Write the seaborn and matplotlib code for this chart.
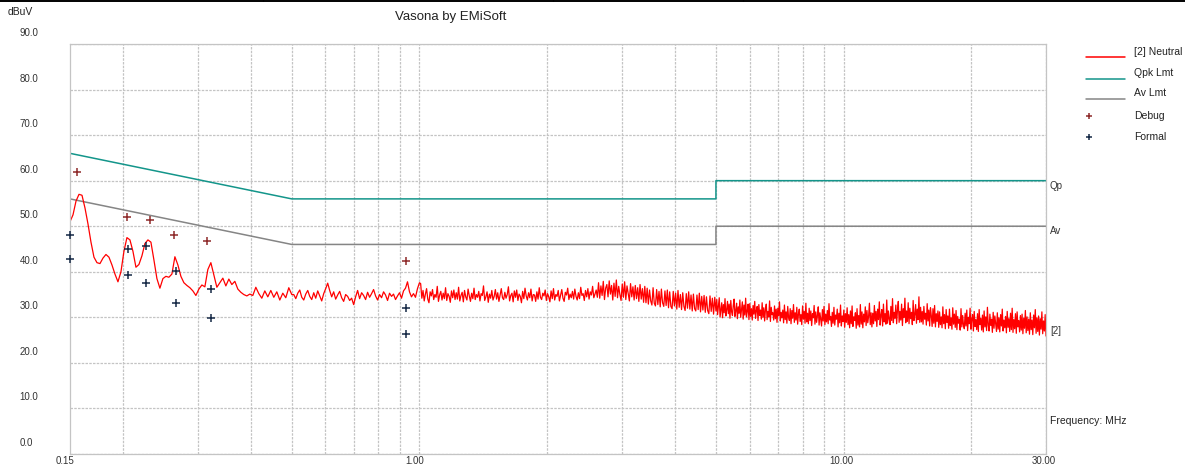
import numpy as np
import pandas as pd
import seaborn as sns
import matplotlib.pyplot as plt
import matplotlib.transforms as mtransforms
from matplotlib.lines import Line2D

# sweep grid in MHz (segments get denser towards the high end, like the analyser sweep)
freq_lo = np.geomspace(0.15, 0.5, 75)
freq_mid_a = np.geomspace(0.5, 1, 65)[1:]
freq_mid_b = np.geomspace(1, 5, 251)[1:]
freq_hi = np.geomspace(5, 30, 401)[1:]

# [2] Neutral trace, dBuV
neutral_lo = [51.0, 52.5, 55.5, 57.0, 56.8, 54.0, 50.5, 46.5, 43.2, 42.0,
              41.8, 43.0, 43.8, 43.2, 41.5, 39.5, 37.8, 40.0, 44.5, 47.5,
              47.0, 44.5, 41.0, 41.6, 43.5, 46.2, 47.0, 46.5, 42.6, 38.5,
              36.4, 38.5, 39.0, 38.8, 39.5, 43.3, 41.5, 39.0, 37.6, 37.0,
              36.5, 35.8, 34.8, 36.2, 37.1, 36.7, 40.5, 42.0, 39.3, 36.6,
              37.6, 38.6, 36.9, 38.4, 37.2, 37.9, 36.2, 35.5, 35.0, 34.7,
              35.1, 34.8, 36.6, 35.2, 34.2, 35.8, 34.5, 35.9, 34.4, 35.6,
              33.8, 35.3, 34.3, 36.5, 35.0]
neutral_mid_a = [35.0, 34.1, 35.3, 36.0, 34.4, 33.8, 35.1, 35.9, 34.6, 33.9,
                 35.4, 34.2, 35.8, 34.7, 33.6, 35.2, 36.3, 37.5, 35.9, 34.5,
                 35.6, 34.0, 34.9, 35.7, 34.3, 33.5, 35.0, 34.6, 33.7, 34.2,
                 32.8, 34.5, 35.9, 34.1, 35.4, 34.8, 33.9, 35.5, 34.4, 35.2,
                 36.1, 34.7, 33.8, 35.0, 34.3, 35.6, 34.9, 33.7, 35.3, 34.6,
                 35.1, 33.9, 34.7, 35.4, 34.2, 35.8, 36.4, 37.8, 35.6, 34.5,
                 35.2, 34.4, 36.3, 37.6]
neutral_mid_b = [37.4, 34.2, 35.9, 33.6, 35.1, 36.3, 34.0, 33.2, 35.6, 34.7,
                 36.1, 33.9, 35.0, 34.4, 36.8, 33.5, 34.9, 35.7, 33.8, 35.3,
                 34.1, 36.5, 33.7, 35.2, 34.6, 33.3, 35.8, 34.3, 36.0, 33.9,
                 35.4, 34.0, 36.6, 33.6, 34.8, 35.5, 33.4, 35.9, 34.5, 33.8,
                 36.2, 34.7, 33.5, 35.3, 34.1, 36.4, 33.9, 35.0, 34.4, 35.7,
                 33.6, 35.2, 34.8, 36.9, 33.7, 34.5, 35.6, 33.3, 35.1, 34.2,
                 35.9, 33.8, 34.6, 36.1, 34.0, 35.4, 33.5, 34.9, 36.3, 34.3,
                 33.9, 35.5, 34.2, 35.0, 36.7, 33.6, 34.8, 35.3, 33.4, 35.8,
                 34.4, 36.0, 33.7, 35.1, 34.6, 33.2, 35.7, 34.1, 36.4, 34.7,
                 33.8, 35.4, 34.3, 36.2, 33.6, 35.0, 34.9, 33.5, 35.6, 34.0,
                 36.5, 34.4, 33.9, 35.3, 34.7, 36.0, 33.7, 35.2, 34.5, 33.4,
                 35.8, 34.1, 36.3, 33.8, 35.0, 34.6, 35.9, 33.6, 34.8, 36.1,
                 34.2, 33.5, 35.5, 34.9, 36.4, 33.9, 35.1, 34.3, 35.7, 34.0,
                 36.2, 34.6, 33.8, 35.4, 34.1, 36.6, 34.8, 35.2, 33.7, 35.9,
                 34.5, 36.3, 34.0, 35.6, 34.9, 36.8, 34.3, 35.1, 36.0, 34.4,
                 37.6, 34.2, 36.9, 34.8, 37.9, 33.9, 36.4, 37.2, 34.5, 38.0,
                 35.1, 37.0, 33.8, 37.5, 34.6, 38.2, 34.3, 36.8, 35.0, 33.7,
                 37.3, 34.4, 37.8, 33.9, 36.9, 35.2, 33.6, 37.4, 34.5, 36.7,
                 33.8, 37.0, 34.1, 36.5, 33.5, 37.2, 34.0, 36.3, 33.3, 36.8,
                 33.2, 36.4, 32.9, 36.0, 33.6, 32.7, 36.5, 33.1, 32.5, 36.1,
                 32.8, 35.7, 32.3, 36.2, 33.2, 32.4, 35.8, 32.6, 36.0, 32.1,
                 35.6, 32.4, 31.9, 35.7, 32.5, 35.3, 31.8, 35.9, 32.2, 35.0,
                 31.7, 35.4, 32.4, 31.5, 35.2, 32.0, 35.6, 31.8, 34.9, 31.4,
                 35.1, 31.9, 31.4, 34.9, 31.7, 35.3, 31.2, 34.6, 31.6, 34.8,
                 31.1, 34.5, 31.5, 30.8, 34.7, 31.3, 34.2, 30.7, 34.4, 31.4]
neutral_hi = [33.9, 30.6, 32.4, 34.3, 30.1, 31.7, 33.2, 29.9, 32.8, 31.0,
              34.1, 30.3, 31.6, 33.5, 30.8, 32.9, 29.8, 33.7, 31.2, 30.4,
              32.6, 34.0, 30.2, 31.4, 33.1, 29.7, 32.3, 30.9, 33.8, 30.0,
              31.8, 33.4, 29.6, 32.7, 30.5, 34.2, 30.1, 31.3, 32.9, 29.5,
              33.0, 30.2, 31.9, 29.4, 32.6, 30.7, 33.5, 29.8, 31.5, 32.4,
              29.3, 32.8, 30.4, 31.6, 29.6, 33.2, 30.0, 32.1, 29.2, 31.7,
              32.9, 29.5, 31.3, 30.1, 33.6, 29.1, 32.2, 30.6, 31.0, 29.4,
              32.5, 29.7, 31.8, 28.9, 32.0, 30.3, 33.4, 29.2, 31.1, 29.9,
              31.6, 28.8, 32.7, 29.5, 31.2, 28.7, 32.4, 30.0, 29.3, 31.9,
              28.6, 31.5, 29.8, 32.8, 28.9, 31.0, 29.4, 32.2, 28.5, 30.7,
              31.8, 29.1, 30.6, 28.4, 32.5, 29.6, 31.3, 28.7, 33.1, 29.0,
              30.9, 28.6, 32.0, 29.3, 31.4, 28.2, 30.8, 29.9, 32.6, 28.5,
              31.2, 28.9, 30.4, 32.3, 28.3, 31.0, 29.5, 28.1, 31.7, 29.2,
              32.4, 28.4, 30.7, 29.0, 31.5, 28.6, 33.0, 29.4, 30.2, 28.0,
              31.1, 28.7, 32.2, 28.3, 30.5, 29.6, 31.8, 27.9, 30.9, 28.8,
              32.7, 28.1, 30.3, 29.1, 31.6, 27.8, 30.8, 28.9, 32.1, 28.4,
              30.6, 27.7, 31.4, 28.6, 32.5, 28.0, 30.1, 29.3, 31.0, 27.6,
              31.9, 28.3, 30.4, 27.9, 32.8, 28.5, 31.2, 27.7, 30.7, 29.0,
              32.3, 28.2, 31.5, 28.8, 30.2, 33.1, 28.4, 31.0, 27.9, 30.9,
              28.6, 32.6, 29.2, 31.3, 28.0, 31.8, 29.5, 33.4, 28.3, 30.5,
              31.7, 28.1, 32.9, 29.0, 30.8, 28.5, 33.8, 28.7, 31.4, 29.6,
              28.4, 32.4, 29.3, 34.1, 28.8, 31.1, 29.8, 32.7, 28.6, 31.6,
              33.5, 28.9, 31.3, 29.4, 32.9, 28.2, 31.9, 30.0, 34.2, 28.8,
              31.4, 29.1, 33.2, 28.6, 32.0, 29.7, 31.1, 28.4, 33.7, 29.3,
              30.6, 32.8, 28.7, 31.8, 29.5, 34.5, 28.9, 32.2, 29.0, 31.3,
              28.5, 32.4, 29.6, 30.9, 28.3, 33.0, 29.2, 31.6, 28.1, 32.1,
              30.4, 28.0, 31.9, 28.7, 32.6, 27.9, 30.8, 29.1, 31.4, 27.8,
              31.2, 28.4, 30.1, 27.7, 32.3, 28.6, 30.6, 27.5, 31.7, 28.9,
              30.3, 27.6, 31.8, 28.2, 29.9, 27.4, 32.1, 28.5, 30.7, 27.8,
              31.5, 27.3, 30.2, 28.7, 29.6, 27.2, 31.9, 27.9, 30.4, 28.3,
              27.5, 30.9, 28.1, 31.6, 27.1, 30.0, 28.6, 32.0, 27.4, 29.7,
              30.6, 27.0, 31.3, 28.0, 29.5, 27.3, 30.8, 26.9, 31.7, 28.4,
              29.8, 27.2, 30.5, 26.8, 31.4, 27.9, 30.1, 27.1, 32.2, 28.3,
              27.0, 30.7, 28.2, 29.6, 26.7, 31.1, 27.6, 30.3, 28.5, 26.9,
              31.0, 27.4, 29.9, 26.8, 30.6, 28.1, 31.8, 27.0, 29.4, 27.7,
              30.2, 26.6, 31.3, 27.8, 29.7, 26.9, 30.9, 27.3, 32.0, 26.7,
              29.5, 27.5, 30.8, 26.5, 31.2, 27.9, 29.3, 26.8, 30.4, 27.2,
              30.7, 26.4, 29.8, 27.6, 31.5, 26.6, 30.1, 27.1, 29.6, 26.3,
              31.0, 27.3, 29.4, 26.2, 30.5, 27.7, 31.7, 26.5, 29.9, 26.9,
              30.3, 26.1, 29.7, 27.4, 31.2, 26.4, 29.2, 27.0, 30.6, 25.9]

# limit lines
qpk_freq = [0.15, 0.5, 5, 5, 30]
qpk_lvl = [66, 56, 56, 60, 60]
av_freq = [0.15, 0.5, 5, 5, 30]
av_lvl = [56, 46, 46, 50, 50]

# measured points
debug_freq = [0.156, 0.204, 0.231, 0.264, 0.316, 0.928]
debug_lvl = [61.9, 52.1, 51.4, 48.0, 46.8, 42.3]
formal_freq = [0.15, 0.15, 0.205, 0.205, 0.227, 0.227, 0.267, 0.267,
               0.322, 0.322, 0.928, 0.928]
formal_lvl = [48.1, 42.8, 45.0, 39.4, 45.7, 37.6, 40.2, 33.2,
              36.2, 29.8, 32.0, 26.3]

ytick_vals = [0, 10, 20, 30, 40, 50, 60, 70, 80, 90]
xtick_vals = [0.15, 1, 10, 30]
xtick_labels = ['0.15', '1.00', '10.00', '30.00']

RED = '#ff0000'
TEAL = '#13958a'
GRAY = '#858585'
DEBUG_C = '#8e2a2a'
FORMAL_C = '#152845'
GRID_C = '#c4c4c4'

sns.set_theme(style='white')
plt.rcParams['font.family'] = ['Liberation Sans', 'DejaVu Sans']

W, H = 1185, 469
fig = plt.figure(figsize=(W / 100, H / 100), dpi=100)
ax = fig.add_axes([70 / W, 15 / H, 976 / W, 410 / H])

trace = pd.DataFrame({
    'freq': np.concatenate([freq_lo, freq_mid_a, freq_mid_b, freq_hi]),
    'dBuV': neutral_lo + neutral_mid_a + neutral_mid_b + neutral_hi,
})
limits = pd.DataFrame({
    'freq': qpk_freq + av_freq,
    'dBuV': qpk_lvl + av_lvl,
    'limit': ['Qpk Lmt'] * len(qpk_freq) + ['Av Lmt'] * len(av_freq),
})

sns.lineplot(data=limits, x='freq', y='dBuV', hue='limit',
             palette={'Qpk Lmt': TEAL, 'Av Lmt': GRAY},
             estimator=None, sort=False, lw=1.1, legend=False, ax=ax)
sns.lineplot(data=trace, x='freq', y='dBuV', color=RED, lw=0.9,
             estimator=None, sort=False, legend=False, ax=ax)
sns.scatterplot(x=debug_freq, y=debug_lvl, marker='+', color=DEBUG_C,
                s=40, linewidth=1.1, ax=ax, clip_on=False, zorder=5)
sns.scatterplot(x=formal_freq, y=formal_lvl, marker='+', color=FORMAL_C,
                s=40, linewidth=1.1, ax=ax, clip_on=False, zorder=5)

ax.set_xscale('log')
ax.set_xlim(0.15, 30)
ax.set_ylim(0, 90)
ax.set_yticks(ytick_vals)
ax.set_xlabel('')
ax.set_ylabel('')
ax.tick_params(which='both', length=0, labelbottom=False, labelleft=False)
ax.grid(True, which='both', axis='x', color=GRID_C, lw=0.9, ls=(0, (2, 1)))
ax.grid(True, which='major', axis='y', color=GRID_C, lw=0.9, ls=(0, (2, 1)))
ax.set_axisbelow(True)
for sp in ax.spines.values():
    sp.set_color(GRID_C)
    sp.set_linewidth(0.9)
    sp.set_linestyle((0, (2, 1)))

# y labels sit a bit above their gridlines, like the original software
ytrans = mtransforms.blended_transform_factory(ax.transAxes, ax.transData) + \
    mtransforms.ScaledTranslation(0, 11 / 100, fig.dpi_scale_trans)
for v in ytick_vals:
    ax.text(-50.5 / 976, v, f'{v:.1f}', transform=ytrans, ha='left',
            va='center', fontsize=7, color='#333333')

xtrans = mtransforms.blended_transform_factory(ax.transData, ax.transAxes) + \
    mtransforms.ScaledTranslation(-14.5 / 100, 0, fig.dpi_scale_trans)
for v, lab in zip(xtick_vals, xtick_labels):
    ax.text(v, -7 / 410, lab, transform=xtrans, ha='left', va='center',
            fontsize=7, color='#333333')

# labels on the right edge
rtrans = mtransforms.blended_transform_factory(ax.transAxes, ax.transData) + \
    mtransforms.ScaledTranslation(0, -5 / 100, fig.dpi_scale_trans)
ax.text(1.004, qpk_lvl[-1], 'Qp', transform=rtrans, ha='left', va='center',
        fontsize=7, color='#333333')
ax.text(1.004, av_lvl[-1], 'Av', transform=rtrans, ha='left', va='center',
        fontsize=7, color='#333333')
ax.text(1.004, 28.0, '[2]', transform=rtrans,
        ha='left', va='center', fontsize=7, color='#333333')
ax.text(1.004, 33 / 410, 'Frequency: MHz', transform=ax.transAxes,
        ha='left', va='center', fontsize=7.5, color='#222222')

fig.text(451 / W, 1 - 17 / H, 'Vasona by EMiSoft', ha='center', va='center',
         fontsize=9.5, color='#222222')
fig.text(8 / W, 1 - 12 / H, 'dBuV', ha='left', va='center', fontsize=7.5,
         color='#222222')

# legend drawn by hand: handle at the left, label to the right
legend_rows = [('[2] Neutral', 'line', RED, 51.5),
               ('Qpk Lmt', 'line', TEAL, 72.5),
               ('Av Lmt', 'line', GRAY, 93.0),
               ('Debug', 'mark', DEBUG_C, 116.0),
               ('Formal', 'mark', FORMAL_C, 137.3)]
for label, kind, col, yc in legend_rows:
    if kind == 'line':
        y = 1 - (yc + 6) / H
        fig.add_artist(Line2D([1086 / W, 1125 / W], [y, y], color=col,
                              lw=1.1, transform=fig.transFigure))
    else:
        fig.add_artist(Line2D([1088.5 / W], [1 - yc / H], marker='+',
                              color=col, ms=5, mew=1.1, ls='none',
                              transform=fig.transFigure))
    fig.text(1134 / W, 1 - yc / H, label, ha='left', va='center',
             fontsize=7.5, color='#222222')

# page border fragment along the top
fig.add_artist(Line2D([0, 1], [1 - 1.5 / H] * 2, color='black', lw=1.4,
                      transform=fig.transFigure))
for xp in [263, 553, 743]:
    fig.add_artist(Line2D([xp / W] * 2, [1, 1 - 1.5 / H], color='black',
                          lw=0.8, transform=fig.transFigure))

fig.savefig('out.png', dpi=100)
plt.close(fig)
